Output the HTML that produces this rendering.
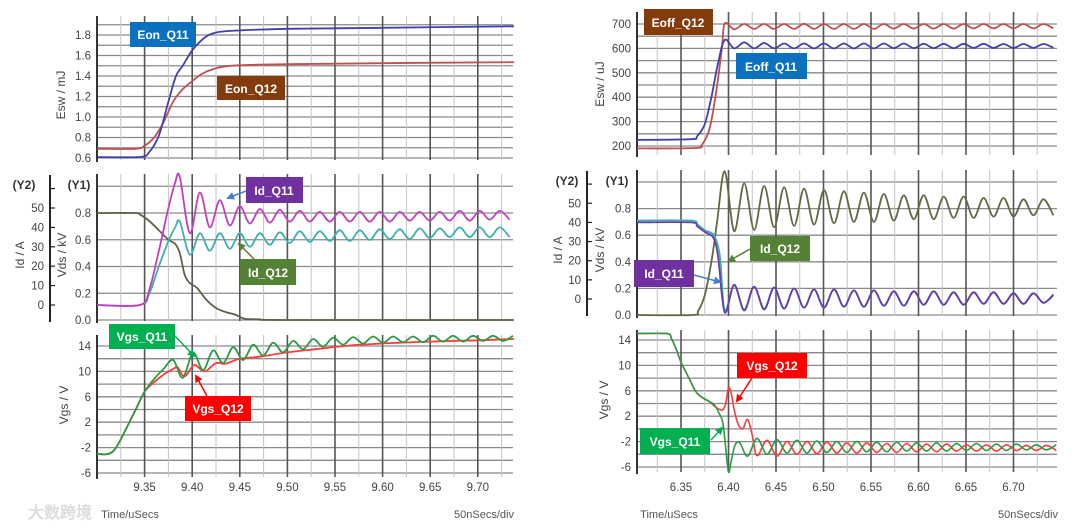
<!DOCTYPE html>
<html><head><meta charset="utf-8"><style>
html,body{margin:0;padding:0;background:#fff;}
svg{display:block;font-family:"Liberation Sans",sans-serif;}
</style></head><body>
<svg id="chart" width="1080" height="529" viewBox="0 0 1080 529">
<g id="grid"></g><g id="series"></g><g id="labels"></g>
</svg>
<script>
// ---------- data ----------
const xTicksL=[9.35,9.40,9.45,9.50,9.55,9.60,9.65,9.70];
const xTicksR=[6.35,6.40,6.45,6.50,6.55,6.60,6.65,6.70];
const eTicksL=[0.6,0.8,1.0,1.2,1.4,1.6,1.8];
const eTicksR=[200,300,400,500,600,700];
const y1Ticks=[0.0,0.2,0.4,0.6,0.8];
const y2Ticks=[0,10,20,30,40,50];
const vgsTicks=[-6,-2,2,6,10,14];

const eonQ11=[[9.30,0.61],[9.345,0.61],[9.355,0.66],[9.365,0.82],[9.375,1.15],[9.383,1.4],[9.39,1.5],[9.40,1.65],[9.41,1.75],[9.42,1.81],[9.44,1.84],[9.5,1.86],[9.6,1.87],[9.738,1.885]];
const eonQ12=[[9.30,0.69],[9.34,0.69],[9.35,0.72],[9.36,0.8],[9.37,0.95],[9.38,1.15],[9.39,1.27],[9.40,1.35],[9.41,1.42],[9.42,1.46],[9.44,1.5],[9.5,1.515],[9.6,1.525],[9.738,1.535]];
const tIdL=[9.387,9.3975,9.408,9.4185,9.429,9.4395,9.450,9.4605,9.471,9.4815,9.492,9.5025,9.513,9.5235,9.534,9.5445,9.555,9.5655,9.576,9.5865,9.597,9.6075,9.618,9.6285,9.639,9.6495,9.660,9.6705,9.681,9.6915,9.702,9.7125,9.723,9.7335];
const idQ11L=[66,37,58,40,54,41,51,42,49.5,42.5,49,43,48.5,43,48,43,48,43,48,43,48,43,48,43.5,48,43.5,48,43.5,48.5,43.5,48.5,44,48.5,44];
const idQ12L=[43,26,37,28,37,29,37,30,37,31,37.5,32,38,32.5,38,33,38.5,33,38.5,33.5,39,34,39,34,39.5,34.5,39.5,35,40,35,40,35,40,35];
const idQ11Lpre=[[9.30,0],[9.345,0],[9.355,8],[9.365,28],[9.375,50],[9.382,63]];
const idQ12Lpre=[[9.30,0],[9.345,0],[9.355,6],[9.365,20],[9.375,33],[9.382,40]];
const vdsL=[[9.30,0.8],[9.34,0.8],[9.345,0.79],[9.355,0.74],[9.365,0.67],[9.375,0.6],[9.382,0.57],[9.387,0.5],[9.392,0.34],[9.397,0.28],[9.405,0.24],[9.415,0.15],[9.425,0.09],[9.435,0.06],[9.445,0.04],[9.455,0.01],[9.47,0.005],[9.5,0],[9.738,0]];
const vgsQ11Lpre=[[9.30,-3],[9.312,-3],[9.32,-2],[9.33,0.8],[9.34,3.8],[9.35,6.8],[9.36,8.8],[9.37,10.4]];
const tVgL=[9.38,9.39,9.401,9.4115,9.422,9.4325,9.443,9.4535,9.464,9.4745,9.485,9.4955,9.506,9.5165,9.527,9.5375,9.548,9.5585,9.569,9.5795,9.590,9.6005,9.611,9.6215,9.632,9.6425,9.653,9.6635,9.674,9.6845,9.695,9.7055,9.716,9.7265,9.737];
const vgsQ11L=[11.8,9.0,12.9,10.2,13.3,11.3,13.8,11.8,14.2,12.5,14.5,13.0,14.8,13.5,15.1,13.9,15.3,14.2,15.4,14.4,15.5,14.5,15.5,14.6,15.5,14.6,15.6,14.7,15.6,14.7,15.6,14.8,15.6,14.8,15.6];
const vgsQ12L=[[9.30,-3],[9.312,-3],[9.32,-2],[9.33,0.8],[9.34,3.8],[9.35,6.8],[9.36,8.3],[9.37,9.5],[9.38,10.4],[9.385,10.6],[9.392,9.2],[9.402,11.0],[9.413,10.0],[9.425,11.3],[9.435,11.2],[9.45,12.0],[9.47,12.3],[9.5,13.0],[9.53,13.5],[9.56,14.0],[9.6,14.4],[9.65,14.7],[9.7,14.9],[9.738,15.1]];

const tR=[6.396,6.406,6.4165,6.427,6.4375,6.448,6.4585,6.469,6.4795,6.490,6.5005,6.511,6.5215,6.532,6.5425,6.553,6.5635,6.574,6.5845,6.595,6.6055,6.616,6.6265,6.637,6.6475,6.658,6.6685,6.679,6.6895,6.700,6.7105,6.721,6.7315,6.742];
const eoffQ12pre=[[6.3037,190],[6.365,192],[6.372,205],[6.38,270],[6.387,420],[6.393,600]];
const eoffQ12=[702,678,700,680,700,680,700,680,701,680,700,680,700,680,700,680,700,681,700,681,700,681,700,681,700,682,700,682,700,682,700,682,700,682];
const eoffQ11pre=[[6.3037,225],[6.36,228],[6.367,240],[6.375,290],[6.382,400],[6.389,540]];
const eoffQ11=[635,600,625,600,622,600,620,600,620,600,620,600,620,600,620,600,620,601,620,601,619,601,619,601,619,602,619,602,618,602,618,602,618,602];
const vdsRpre=[[6.3037,0],[6.362,0],[6.368,0.03],[6.375,0.15],[6.382,0.4],[6.388,0.7]];
const vdsR=[1.08,0.63,0.99,0.64,0.97,0.66,0.96,0.67,0.95,0.68,0.94,0.69,0.93,0.7,0.92,0.7,0.91,0.71,0.9,0.72,0.9,0.72,0.89,0.73,0.89,0.73,0.88,0.74,0.88,0.74,0.87,0.75,0.87,0.75];
const idQ11Rpre=[[6.3037,40],[6.36,40],[6.367,38],[6.375,35],[6.384,32],[6.389,22]];
const idQ11R=[-7,7.5,-6,6.5,-5.5,6,-5,5.5,-4.5,5,-4.5,5,-4,4.5,-4,4.5,-3.5,4,-3.5,4,-3,4,-3,3.5,-3,3.5,-2.5,3.5,-2.5,3,-2.5,3,-2,2];
const idQ12Rpre=[[6.3037,41],[6.36,41],[6.367,39],[6.375,36],[6.385,33],[6.391,22]];
const idQ12R=[-6,7,-5.5,6.5,-5,6,-5,5.5,-4.5,5,-4.5,5,-4,4.5,-4,4.5,-3.5,4,-3.5,4,-3,4,-3,3.5,-3,3.5,-2.5,3.5,-2.5,3,-2.5,3,-2,2.5];
const vgsQ11Rpre=[[6.3037,15],[6.335,15],[6.34,14.2],[6.345,12.5],[6.35,10.5],[6.355,9],[6.36,7.5],[6.365,6],[6.37,5.2],[6.375,4.7],[6.38,4.3],[6.385,3.8],[6.39,2.5],[6.394,1],[6.397,-3],[6.40,-6.8],[6.403,-5],[6.407,-2.5],[6.412,-2.2],[6.42,-4.3],[6.43,-1.5]];
const tVgR=[6.4405,6.451,6.4615,6.472,6.4825,6.493,6.5035,6.514,6.5245,6.535,6.5455,6.556,6.5665,6.577,6.5875,6.598,6.6085,6.619,6.6295,6.640,6.6505,6.661,6.6715,6.682,6.6925,6.703,6.7135,6.724,6.7345,6.745];
const vgsQ11R=[-4,-1.7,-3.8,-1.8,-3.8,-1.9,-3.7,-2,-3.7,-2,-3.6,-2.1,-3.6,-2.1,-3.5,-2.2,-3.5,-2.2,-3.5,-2.3,-3.4,-2.3,-3.4,-2.4,-3.4,-2.4,-3.3,-2.5,-3.3,-2.5];
const vgsQ12Rpre=[[6.3037,15],[6.335,15],[6.34,14.2],[6.345,12.5],[6.35,10.5],[6.355,9],[6.36,7.5],[6.365,6],[6.37,5.2],[6.375,4.7],[6.38,4.3],[6.385,3.6],[6.39,3.1],[6.394,3.0],[6.397,4],[6.40,6.5],[6.403,5.5],[6.406,3],[6.41,0.8],[6.415,0],[6.42,1.5],[6.425,-1],[6.43,-4.2]];
const vgsQ12R=[-1.8,-4.3,-2,-4,-2,-3.9,-2.1,-3.8,-2.2,-3.8,-2.2,-3.7,-2.3,-3.7,-2.3,-3.6,-2.4,-3.6,-2.4,-3.5,-2.5,-3.5,-2.5,-3.5,-2.5,-3.4,-2.6,-3.4,-2.6,-3.4];

// ---------- axes ----------
const NS='http://www.w3.org/2000/svg';
const xL=t=>97+(t-9.30)/0.05*47.6;
const xR=t=>681+(t-6.35)/0.05*47.5;
const yEL=v=>158-(v-0.6)/0.2*20.5;
const yY1L=v=>320-v/0.2*26.75;
const yY2L=v=>305-v*1.94;
const yVL=v=>346-(v-14)*6.35;
const yER=v=>146-(v-200)*0.244;
const yY1R=v=>315-v/0.2*26.6;
const yY2R=v=>299-v*1.915;
const yVR=v=>340-(v-14)*6.35;

function mk(tag,attrs,parent,text){const e=document.createElementNS(NS,tag);for(const k in attrs)e.setAttribute(k,attrs[k]);if(text!==undefined)e.textContent=text;parent.appendChild(e);return e;}
const G=document.getElementById('grid'),S=document.getElementById('series'),L=document.getElementById('labels');

function zip(pre,ts,vs){const out=pre.slice();for(let i=0;i<ts.length;i++)out.push([ts[i],vs[i]]);return out;}
function pathD(pts,xf,yf){const p=pts.map(a=>[xf(a[0]),yf(a[1])]);let d='M'+p[0][0].toFixed(1)+','+p[0][1].toFixed(1);
 for(let i=0;i<p.length-1;i++){const p0=p[i-1]||p[i],p1=p[i],p2=p[i+1],p3=p[i+2]||p2;
  const c1=[p1[0]+(p2[0]-p0[0])/6,p1[1]+(p2[1]-p0[1])/6],c2=[p2[0]-(p3[0]-p1[0])/6,p2[1]-(p3[1]-p1[1])/6];
  d+=' C'+c1[0].toFixed(1)+','+c1[1].toFixed(1)+' '+c2[0].toFixed(1)+','+c2[1].toFixed(1)+' '+p2[0].toFixed(1)+','+p2[1].toFixed(1);}
 return d;}

function panel(name,x0,x1,top,bot,xf,xt,minorY,majorY,yf,tickVals,tickFmt,labX,showX,t0){
 const g=mk('g',{},G);
 
 
 minorY.forEach(v=>{const y=yf(v);if(y<top||y>bot)return;mk('line',{x1:x0,x2:x1,y1:y,y2:y,stroke:'#8a8a8a','stroke-width':1.3},g);});
 majorY.forEach(v=>{const y=yf(v);mk('line',{x1:x0,x2:x1,y1:y,y2:y,stroke:'#666','stroke-width':1.6},g);});
 xt.forEach(t=>{const x=xf(t);mk('line',{x1:x,x2:x,y1:top,y2:bot,stroke:'#555','stroke-width':1.6},g);
   const xm=xf(t-0.025);if(xm>x0+2)mk('line',{x1:xm,x2:xm,y1:top,y2:bot,stroke:'#c4c4c4','stroke-width':1},g);});
 const xe=xf(xt[xt.length-1]+0.025);if(xe<x1)mk('line',{x1:xe,x2:xe,y1:top,y2:bot,stroke:'#c4c4c4','stroke-width':1},g);
 mk('line',{x1:x0,x2:x0,y1:top,y2:bot+2,stroke:'#333','stroke-width':2},g);
 tickVals.forEach(v=>{const t=mk('text',{x:labX,y:yf(v)+4,'text-anchor':'end','font-size':11.5,fill:'#444'},L,tickFmt(v));
  
  });
 if(showX){xt.forEach(v=>{const t=mk('text',{x:xf(v),y:491,'text-anchor':'middle','font-size':11.5,fill:'#444'},L,v.toFixed(2));
  
  });}
}
function range(a,b,s){const r=[];for(let v=a;v<=b+1e-9;v+=s)r.push(+v.toFixed(4));return r;}

// left panels
panel('left-esw',97,513,16,160,xL,xTicksL,range(0.6,1.9,0.1),[],yEL,eTicksL,v=>v.toFixed(1),91,false);
panel('left-id-vds',97,513,174,321,xL,xTicksL,range(0,1.0,0.2),[],yY1L,y1Ticks,v=>v.toFixed(1),91,false);
panel('left-vgs',97,513,335,477,xL,xTicksL,range(-6,16,2),[],yVL,vgsTicks,v=>String(v),91,true);
// right panels
panel('right-esw',637,1057,12,155,xR,xTicksR,range(200,750,50),[],yER,eTicksR,v=>String(v),631,false);
panel('right-id-vds',637,1057,170,316,xR,xTicksR,range(0,1.0,0.2),[],yY1R,y1Ticks,v=>v.toFixed(1),631,false);
panel('right-vgs',637,1057,330,472,xR,xTicksR,range(-6,16,2),[],yVR,vgsTicks,v=>String(v),631,true);

// Y2 axes
function y2axis(x,top,bot,yf,labX,name){const g=mk('g',{},G);
 
 
 mk('line',{x1:x,x2:x,y1:top,y2:bot,stroke:'#222','stroke-width':2},g);
 [0,10,20,30,40,50,60].forEach(v=>mk('line',{x1:x,x2:x+5,y1:yf(v),y2:yf(v),stroke:'#222','stroke-width':1.2},g));
 y2Ticks.forEach(v=>{const t=mk('text',{x:labX,y:yf(v)+4,'text-anchor':'end','font-size':11.5,fill:'#444'},L,String(v));
  
  });}
y2axis(50,175,322,yY2L,44,'left-y2-axis');
y2axis(587,171,316,yY2R,581,'right-y2-axis');

// series
function line(pts,xf,yf,color,name,w){const p=mk('path',{d:pathD(pts,xf,yf),fill:'none',stroke:color,'stroke-width':w||1.8,'stroke-linejoin':'round'},S);
 
 }
line(eonQ12,xL,yEL,'#c0504d','eon-q12-line');
line(eonQ11,xL,yEL,'#4040b0','eon-q11-line');
line(vdsL,xL,yY1L,'#5f5f4a','vds-left-line');
line(zip(idQ12Lpre,tIdL,idQ12L),xL,yY2L,'#3fb0b0','id-q12-left-line');
line(zip(idQ11Lpre,tIdL,idQ11L),xL,yY2L,'#c040c0','id-q11-left-line');
line(vgsQ12L,xL,yVL,'#ff3b3b','vgs-q12-left-line');
line(zip(vgsQ11Lpre,tVgL,vgsQ11L),xL,yVL,'#2e9a45','vgs-q11-left-line');

line(zip(eoffQ12pre,tR,eoffQ12),xR,yER,'#c0504d','eoff-q12-line');
line(zip(eoffQ11pre,tR,eoffQ11),xR,yER,'#4040b0','eoff-q11-line');
line(zip(vdsRpre,tR,vdsR),xR,yY1R,'#5f6a45','vds-right-line');
line(zip(idQ12Rpre,tR,idQ12R),xR,yY2R,'#3fb0b0','id-q12-right-line');
line(zip(idQ11Rpre,tR,idQ11R),xR,yY2R,'#6a3aa8','id-q11-right-line');
line(zip(vgsQ12Rpre,tVgR,vgsQ12R),xR,yVR,'#ff3b3b','vgs-q12-right-line',1.6);
line(zip(vgsQ11Rpre,tVgR,vgsQ11R),xR,yVR,'#2e9a45','vgs-q11-right-line',1.6);
</script>
<svg width="1080" height="529" viewBox="0 0 1080 529" style="position:absolute;left:0;top:0">
<defs><marker id="ah" markerWidth="8" markerHeight="8" refX="6" refY="4" orient="auto" markerUnits="userSpaceOnUse"><path d="M0,0 L8,4 L0,8 z" fill="context-stroke"/></marker></defs>
<g font-size="12" text-anchor="middle" font-weight="bold" fill="#fff" font-family="Liberation Sans, sans-serif">
<text x="65" y="95" transform="rotate(-90 65 95)" fill="#444" font-weight="normal">Esw / mJ</text>
<text x="24" y="189" fill="#333">(Y2)</text>
<text x="79" y="189" fill="#333">(Y1)</text>
<text x="24" y="255" transform="rotate(-90 24 255)" fill="#444" font-weight="normal">Id / A</text>
<text x="66" y="255" transform="rotate(-90 66 255)" fill="#444" font-weight="normal">Vds / kV</text>
<text x="68" y="405" transform="rotate(-90 68 405)" fill="#444" font-weight="normal">Vgs / V</text>
<text x="604" y="84" transform="rotate(-90 604 84)" fill="#444" font-weight="normal">Esw / uJ</text>
<text x="567" y="185" fill="#333">(Y2)</text>
<text x="617" y="185" fill="#333">(Y1)</text>
<text x="562" y="250" transform="rotate(-90 562 250)" fill="#444" font-weight="normal">Id / A</text>
<text x="604" y="250" transform="rotate(-90 604 250)" fill="#444" font-weight="normal">Vds / kV</text>
<text x="608" y="400" transform="rotate(-90 608 400)" fill="#444" font-weight="normal">Vgs / V</text>
<text x="130" y="518" fill="#555" font-weight="normal" font-size="11">Time/uSecs</text>
<text x="484" y="518" fill="#555" font-weight="normal" font-size="11">50nSecs/div</text>
<text x="669" y="518" fill="#555" font-weight="normal" font-size="11">Time/uSecs</text>
<text x="1028" y="518" fill="#555" font-weight="normal" font-size="11">50nSecs/div</text>
<text x="60" y="518" fill="#ddd" font-size="16">大数跨境</text>

<rect x="130" y="22" width="66" height="25" fill="#0a70c0"/><text x="163" y="39">Eon_Q11</text>
<rect x="217" y="76" width="68" height="24" fill="#843c0c"/><text x="251" y="93">Eon_Q12</text>
<rect x="246" y="177" width="57" height="26" fill="#7030a0"/><text x="274" y="195">Id_Q11</text>
<line x1="246" y1="191" x2="228" y2="198" stroke="#4a7ed0" stroke-width="1.5" marker-end="url(#ah)"/>
<rect x="240" y="259" width="56" height="26" fill="#538135"/><text x="268" y="277">Id_Q12</text>
<line x1="254" y1="259" x2="239" y2="244" stroke="#538135" stroke-width="1.5" marker-end="url(#ah)"/>
<rect x="109" y="324" width="66" height="25" fill="#00b050"/><text x="142" y="341">Vgs_Q11</text>
<line x1="175" y1="336" x2="194" y2="356" stroke="#00b050" stroke-width="1.5" marker-end="url(#ah)"/>
<rect x="185" y="396" width="66" height="25" fill="#ff0000"/><text x="218" y="413">Vgs_Q12</text>
<line x1="207" y1="396" x2="196" y2="376" stroke="#ff0000" stroke-width="1.5" marker-end="url(#ah)"/>

<rect x="644" y="9" width="69" height="26" fill="#843c0c"/><text x="678" y="27">Eoff_Q12</text>
<rect x="736" y="53" width="71" height="26" fill="#0a70c0"/><text x="771" y="71">Eoff_Q11</text>
<rect x="750" y="236" width="60" height="25" fill="#538135"/><text x="780" y="253">Id_Q12</text>
<line x1="750" y1="249" x2="729" y2="261" stroke="#538135" stroke-width="1.5" marker-end="url(#ah)"/>
<rect x="634" y="260" width="60" height="27" fill="#7030a0"/><text x="664" y="278">Id_Q11</text>
<line x1="694" y1="275" x2="720" y2="282" stroke="#4a7ed0" stroke-width="1.5" marker-end="url(#ah)"/>
<rect x="737" y="353" width="70" height="25" fill="#ff0000"/><text x="772" y="370">Vgs_Q12</text>
<line x1="752" y1="378" x2="737" y2="401" stroke="#ff0000" stroke-width="1.5" marker-end="url(#ah)"/>
<rect x="640" y="428" width="70" height="26" fill="#00b050"/><text x="675" y="446">Vgs_Q11</text>
<line x1="711" y1="440" x2="722" y2="428" stroke="#00b050" stroke-width="1.5" marker-end="url(#ah)"/>
</g>
</svg>
</body></html>
